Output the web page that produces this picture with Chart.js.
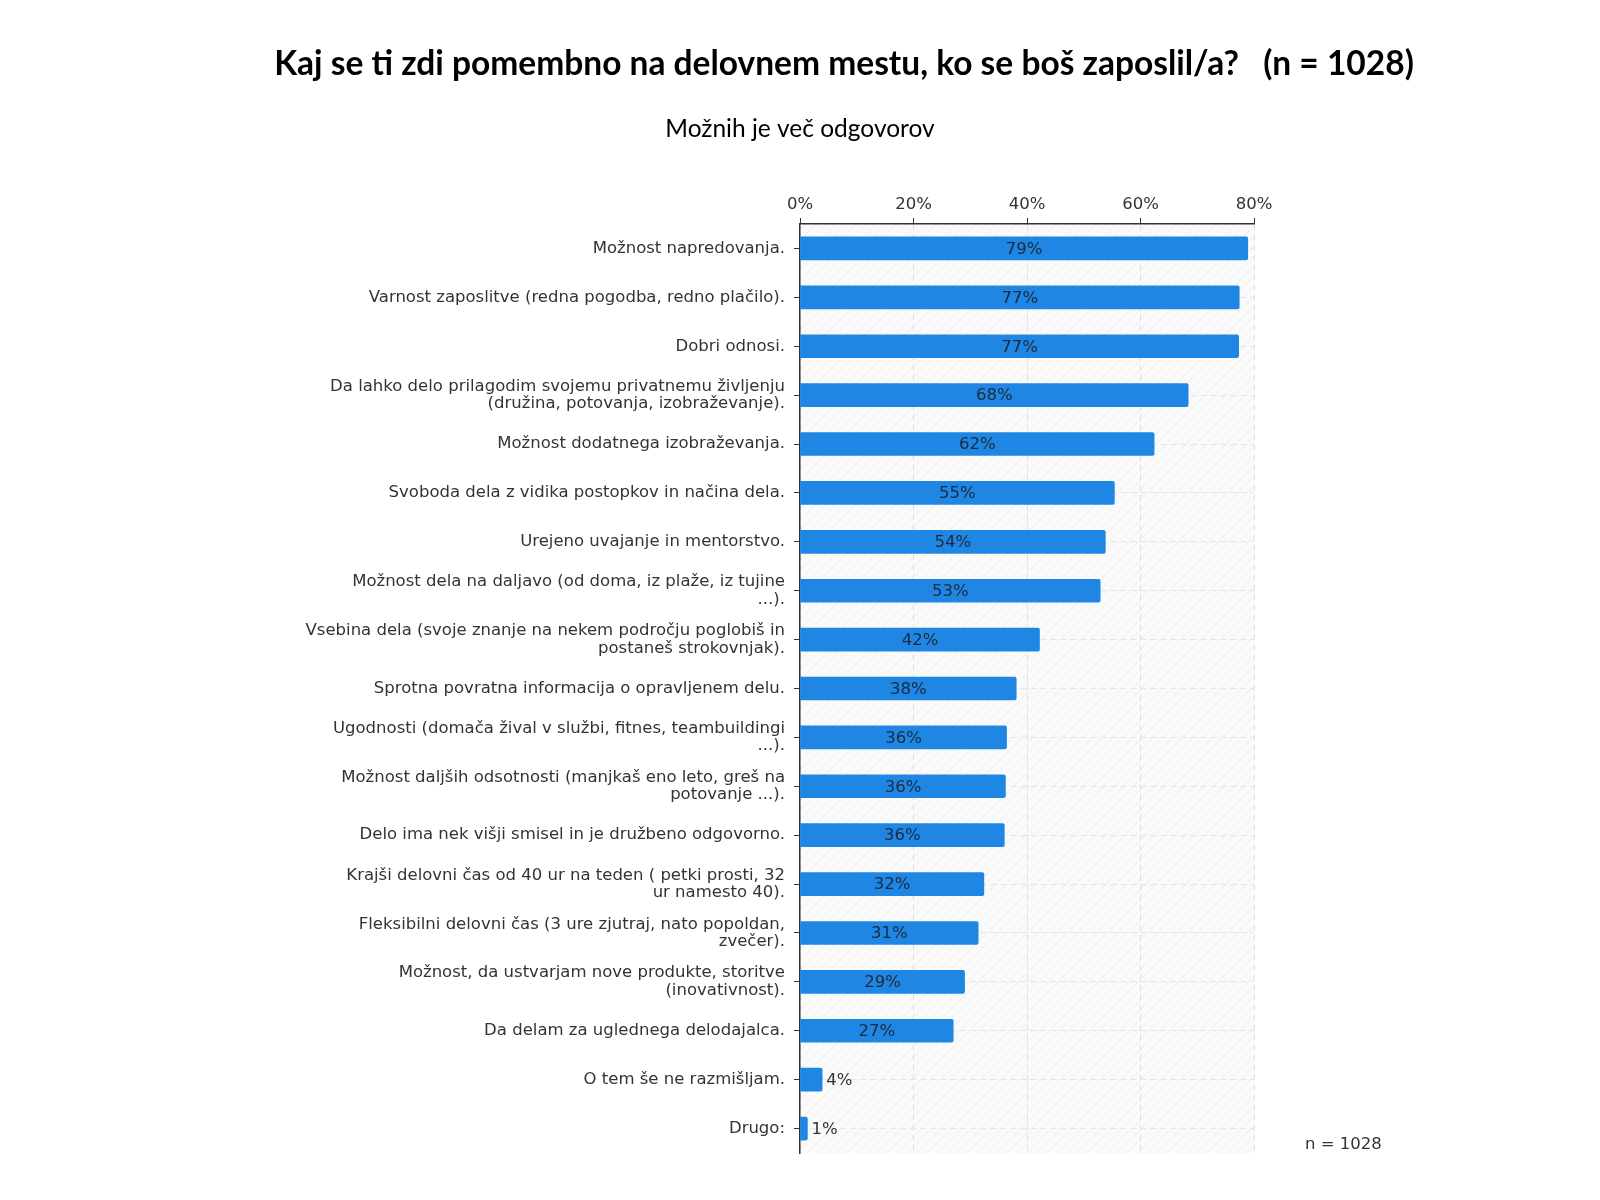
<!DOCTYPE html>
<html>
<head>
<meta charset="utf-8">
<script src="https://cdn.jsdelivr.net/npm/chart.js@4.4.0/dist/chart.umd.min.js"></script>
<style>
  html, body { margin: 0; padding: 0; background: #fff; }
  #wrap { width: 1600px; height: 1200px; position: relative; }
</style>
</head>
<body>
<div id="wrap"><canvas id="canvas" width="1600" height="1200"></canvas></div>
<script>
const categories = [
  "Možnost napredovanja.",
  "Varnost zaposlitve (redna pogodba, redno plačilo).",
  "Dobri odnosi.",
  ["Da lahko delo prilagodim svojemu privatnemu življenju", "(družina, potovanja, izobraževanje)."],
  "Možnost dodatnega izobraževanja.",
  "Svoboda dela z vidika postopkov in načina dela.",
  "Urejeno uvajanje in mentorstvo.",
  ["Možnost dela na daljavo (od doma, iz plaže, iz tujine", "...)."],
  ["Vsebina dela (svoje znanje na nekem področju poglobiš in", "postaneš strokovnjak)."],
  "Sprotna povratna informacija o opravljenem delu.",
  ["Ugodnosti (domača žival v službi, fitnes, teambuildingi", "...)."],
  ["Možnost daljših odsotnosti (manjkaš eno leto, greš na", "potovanje ...)."],
  "Delo ima nek višji smisel in je družbeno odgovorno.",
  ["Krajši delovni čas od 40 ur na teden ( petki prosti, 32", "ur namesto 40)."],
  ["Fleksibilni delovni čas (3 ure zjutraj, nato popoldan,", "zvečer)."],
  ["Možnost, da ustvarjam nove produkte, storitve", "(inovativnost)."],
  "Da delam za uglednega delodajalca.",
  "O tem še ne razmišljam.",
  "Drugo:"
];

const shares = [78.9, 77.4, 77.3, 68.4, 62.4, 55.4, 53.8, 52.9, 42.2, 38.1, 36.4, 36.2, 36.0, 32.4, 31.4, 29.0, 27.0, 3.9, 1.3];

const xTicks = [0, 20, 40, 60, 80];

const titleText = "Kaj se ti zdi pomembno na delovnem mestu, ko se boš zaposlil/a?   (n = 1028)";
const subtitleText = "Možnih je več odgovorov";
const noteText = "n = 1028";

const FONT = "'DejaVu Sans', Verdana, sans-serif";

// hatched plot background
const makePattern = () => {
  const c = document.createElement("canvas");
  c.width = 10; c.height = 10;
  const g = c.getContext("2d");
  g.fillStyle = "#fafafa";
  g.fillRect(0, 0, 10, 10);
  g.strokeStyle = "#ededed";
  g.lineWidth = 1;
  g.beginPath();
  g.moveTo(0, 10); g.lineTo(10, 0);
  g.moveTo(-5, 5); g.lineTo(5, -5);
  g.moveTo(5, 15); g.lineTo(15, 5);
  g.stroke();
  return g.createPattern(c, "repeat");
};

const backgroundPlugin = {
  id: "plotBackground",
  beforeDraw: (chart) => {
    const { ctx, chartArea: a } = chart;
    ctx.save();
    ctx.fillStyle = makePattern();
    ctx.fillRect(a.left, a.top, a.right - a.left, a.bottom - a.top);
    ctx.restore();
  }
};

const valueLabels = {
  id: "valueLabels",
  afterDatasetsDraw: (chart) => {
    const { ctx } = chart;
    const meta = chart.getDatasetMeta(0);
    ctx.save();
    ctx.font = "16.5px " + FONT;
    ctx.textBaseline = "middle";
    meta.data.forEach((bar, i) => {
      const text = Math.round(shares[i]) + "%";
      const w = bar.x - bar.base;
      if (w > 60) {
        ctx.fillStyle = "#1b2a3c";
        ctx.textAlign = "center";
        ctx.fillText(text, bar.base + w / 2, bar.y + 1);
      } else {
        ctx.fillStyle = "#333";
        ctx.textAlign = "left";
        ctx.fillText(text, bar.x + 4, bar.y + 1);
      }
    });
    ctx.restore();
  }
};

const headings = {
  id: "headings",
  afterDraw: (chart) => {
    const { ctx } = chart;
    ctx.save();
    ctx.fillStyle = "#000";
    ctx.textAlign = "center";
    ctx.textBaseline = "middle";
    ctx.font = "bold 33.5px Lato, 'Open Sans', sans-serif";
    ctx.fillText(titleText, 844, 64);
    ctx.font = "24.5px Lato, 'Open Sans', sans-serif";
    ctx.fillText(subtitleText, 800, 129);
    ctx.fillStyle = "#333";
    ctx.textAlign = "left";
    ctx.font = "16.5px " + FONT;
    ctx.fillText(noteText, 1305, 1145);
    ctx.restore();
  }
};

const canvas = document.getElementById("canvas").getContext("2d");

const plot = new Chart(canvas, {
  type: "bar",
  data: {
    labels: categories,
    datasets: [{
      data: shares,
      backgroundColor: "#1f87e3",
      borderRadius: 2,
      borderSkipped: "left",
      barThickness: 23
    }]
  },
  options: {
    indexAxis: "y",
    responsive: false,
    animation: false,
    layout: { padding: { left: 0, top: 0, right: 346, bottom: 47 } },
    plugins: {
      legend: { display: false },
      tooltip: { enabled: false }
    },
    scales: {
      x: {
        position: "top",
        min: 0,
        max: 80,
        afterBuildTicks: (scale) => {
          scale.ticks = xTicks.map(v => ({ value: v }));
        },
        afterFit: (scale) => { scale.height = 224; },
        ticks: {
          color: "#333",
          font: { family: FONT, size: 16.5 },
          padding: 3,
          callback: (v) => v + "%"
        },
        grid: {
          color: "#dedede",
          tickColor: "#333",
          tickLength: 6,
          lineWidth: 1
        },
        border: { display: true, color: "#333", width: 1.5, dash: [6, 4] }
      },
      y: {
        afterFit: (scale) => { scale.width = 800; },
        ticks: {
          color: "#333",
          font: { family: FONT, size: 16.5, lineHeight: 1.05 },
          padding: 9
        },
        grid: {
          offset: false,
          color: "#e4e4e4",
          tickColor: "#333",
          tickLength: 6
        },
        border: { display: true, color: "#333", width: 1.5, dash: [6, 4] }
      }
    }
  },
  plugins: [backgroundPlugin, valueLabels, headings]
});
</script>
</body>
</html>
